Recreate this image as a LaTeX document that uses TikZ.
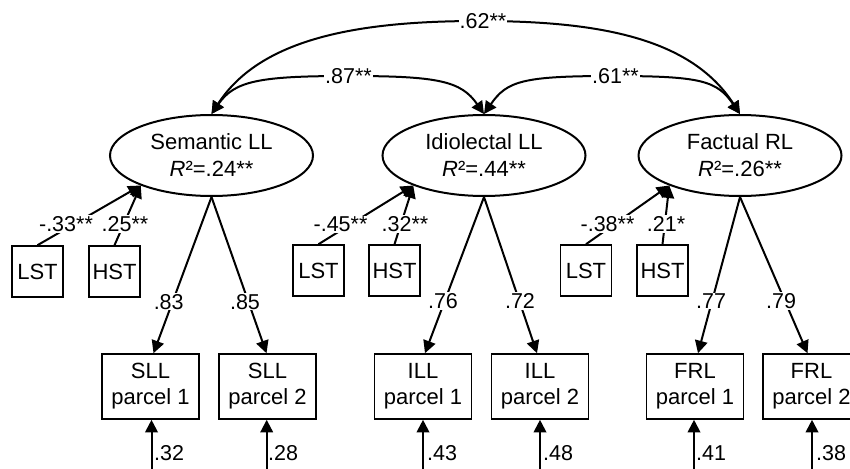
\documentclass[tikz,border=0pt]{standalone}
\usepackage{fontspec}
\setmainfont{Liberation Sans}
\usetikzlibrary{arrows.meta,shapes.geometric}
\begin{document}
\begin{tikzpicture}[x=1pt,y=-1pt,
  tip/.tip={Triangle[length=12.5pt,width=12.5pt]},
  arr/.style={line width=2pt,-tip},
  biarr/.style={line width=2pt,tip-tip},
  latent/.style={ellipse,draw,line width=2pt,minimum width=203pt,minimum height=81pt,
    inner sep=0pt,align=center,font=\fontsize{22}{27}\selectfont,
    execute at begin node={\rule{0pt}{22pt}}},
  obs/.style={draw,line width=1.6pt,minimum width=51pt,minimum height=51pt,inner sep=0pt,
    font=\fontsize{22}{26}\selectfont},
  parcel/.style={draw,line width=1.6pt,minimum width=97pt,minimum height=65pt,inner sep=0pt,
    align=center,font=\fontsize{22}{26}\selectfont,
    execute at begin node={\rule{0pt}{22pt}}},
  coef/.style={fill=white,inner sep=1pt,font=\fontsize{21.5}{24}\selectfont},
  errlbl/.style={inner sep=0pt,anchor=west,font=\fontsize{21.5}{24}\selectfont}]
\useasboundingbox (0,0) rectangle (850,468);
\clip (0,0) rectangle (850,468);

% latent factors
\node[latent] (sem) at (211.5,155.5) {Semantic LL\\\textit{R}²=.24**};
\node[latent] (idi) at (484,155.5) {Idiolectal LL\\\textit{R}²=.44**};
\node[latent] (fac) at (740,155.5) {Factual RL\\\textit{R}²=.26**};

% predictors
\node[obs] (lst1) at (37.5,271.5) {LST};
\node[obs] (hst1) at (114.5,271.5) {HST};
\node[obs] (lst2) at (318.5,270.5) {LST};
\node[obs] (hst2) at (394.5,270.5) {HST};
\node[obs] (lst3) at (586,270.5) {LST};
\node[obs] (hst3) at (662.5,270.5) {HST};

% parcels
\node[parcel] (sp1) at (150.5,386.5) {SLL\\parcel 1};
\node[parcel] (sp2) at (267.5,386.5) {SLL\\parcel 2};
\node[parcel] (ip1) at (423,386.5) {ILL\\parcel 1};
\node[parcel] (ip2) at (540,386.5) {ILL\\parcel 2};
\node[parcel] (fp1) at (695,386.5) {FRL\\parcel 1};
\node[parcel] (fp2) at (811.5,386.5) {FRL\\parcel 2};

% factor covariances: steep near the factors, flat across the top
\draw[biarr] (sem.north) .. controls +(49,-76) and +(-120,0) .. (479,21)
  node[coef,xshift=4pt] (c62) {.62**}
  .. controls +(120,0) and +(-49,-76) .. (fac.north);
\draw[biarr] (sem.north) .. controls +(23,-33) and +(-90,0) .. (348.5,76)
  node[coef] (c87) {.87**}
  .. controls +(90,0) and +(-23,-33) .. (idi.north);
\draw[biarr] (idi.north) .. controls +(23,-33) and +(-90,0) .. (612.5,76)
  node[coef,xshift=3pt] (c61) {.61**}
  .. controls +(90,0) and +(-23,-33) .. (fac.north);

% regressions on the factors
\draw[arr] (lst1.north) -- (sem.203);
\draw[arr] (hst1.north) -- (sem.203);
\draw[arr] (lst2.north) -- (idi.203);
\draw[arr] (hst2.north) -- (idi.203);
\draw[arr] (lst3.north) -- (fac.203);
\draw[arr] (hst3.north) -- (fac.203);
\node[coef] (r1) at (66,224) {-.33**};
\node[coef] (r2) at (125,224) {.25**};
\node[coef] (r3) at (340.5,224) {-.45**};
\node[coef] (r4) at (405,224) {.32**};
\node[coef] (r5) at (607.5,224) {-.38**};
\node[coef] (r6) at (666,224) {.21*};

% loadings
\draw[arr] (sem.south) -- ([xshift=3pt]sp1.north);
\draw[arr] (sem.south) -- ([xshift=-1pt]sp2.north);
\draw[arr] (idi.south) -- ([xshift=2pt]ip1.north);
\draw[arr] (idi.south) -- ([xshift=-3pt]ip2.north);
\draw[arr] (fac.south) -- ([xshift=3pt]fp1.north);
\draw[arr] (fac.south) -- ([xshift=-4pt]fp2.north);
\node[coef] (l1) at (168.7,301.7) {.83};
\node[coef] (l2) at (245,301.7) {.85};
\node[coef] (l3) at (443,301) {.76};
\node[coef] (l4) at (520,301) {.72};
\node[coef] (l5) at (711,301) {.77};
\node[coef] (l6) at (781,301) {.79};

% residual terms
\foreach \p/\x in {sp1/151.5,sp2/266.7,ip1/423,ip2/540,fp1/694,fp2/812}
  \coordinate (u\p) at (\x,480);
\draw[arr] (usp1) -- (usp1 |- sp1.south);
\draw[arr] (usp2) -- (usp2 |- sp2.south);
\draw[arr] (uip1) -- (uip1 |- ip1.south);
\draw[arr] (uip2) -- (uip2 |- ip2.south);
\draw[arr] (ufp1) -- (ufp1 |- fp1.south);
\draw[arr] (ufp2) -- (ufp2 |- fp2.south);
\node[errlbl] (e1) at (154,453) {.32};
\node[errlbl] (e2) at (268,453) {.28};
\node[errlbl] (e3) at (427,453) {.43};
\node[errlbl] (e4) at (543,453) {.48};
\node[errlbl] (e5) at (696,453) {.41};
\node[errlbl] (e6) at (816,453) {.38};
\end{tikzpicture}
\end{document}
